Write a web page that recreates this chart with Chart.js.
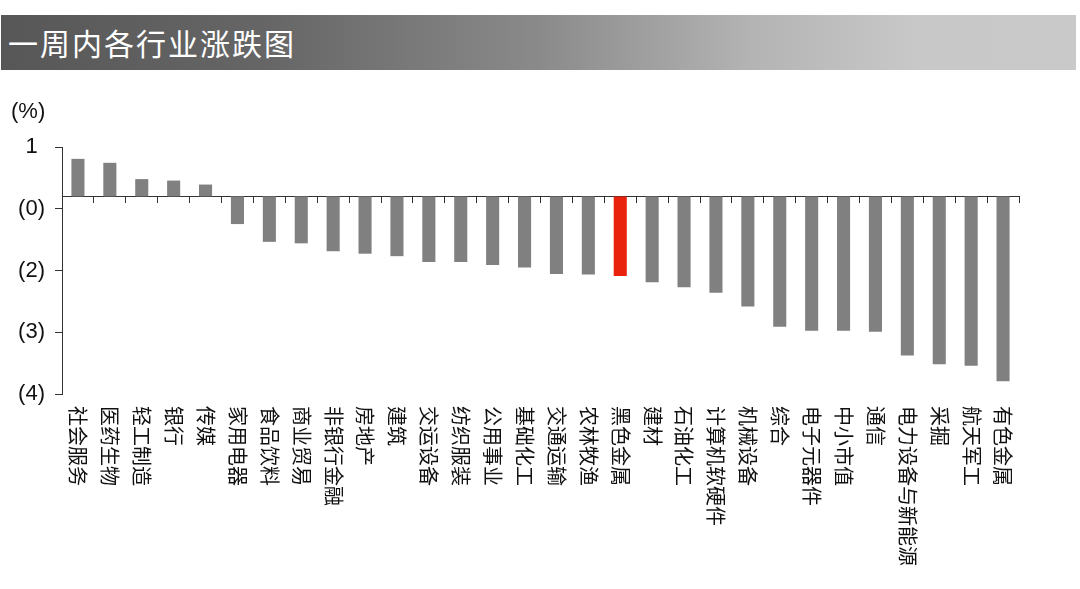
<!DOCTYPE html>
<html>
<head>
<meta charset="utf-8">
<script src="https://cdn.jsdelivr.net/npm/chart.js@4"></script>
<style>
  html, body { margin: 0; padding: 0; background: #fff; width: 1080px; height: 589px; overflow: hidden; }
  #titlebar {
    position: absolute; left: 1px; top: 15px; width: 1075px; height: 55px;
    background: linear-gradient(to right, #575757 0%, #666 25%, #8a8a8a 50%, #b4b4b4 70%, #c8c8c8 85%, #c9c9c9 100%);
    color: #fff; font-family: "Noto Sans CJK SC", sans-serif; font-size: 30px;
    line-height: 55px; padding-left: 7px; box-sizing: border-box; letter-spacing: 2px;
  }
  #unit {
    position: absolute; left: 11px; top: 98px; font-family: "Liberation Sans", Arial, sans-serif;
    font-size: 22px; color: #111;
  }
  canvas { position: absolute; left: 0; top: 0; }
</style>
</head>
<body>
<canvas id="c" width="1080" height="589"></canvas>
<div id="titlebar">一周内各行业涨跌图</div>
<div id="unit">(%)</div>
<script>
const CATEGORIES = ['社会服务','医药生物','轻工制造','银行','传媒','家用电器','食品饮料','商业贸易','非银行金融','房地产',
  '建筑','交运设备','纺织服装','公用事业','基础化工','交通运输','农林牧渔','黑色金属','建材','石油化工',
  '计算机软硬件','机械设备','综合','电子元器件','中小市值','通信','电力设备与新能源','采掘','航天军工','有色金属'];
const CHANGES = [0.76, 0.68, 0.35, 0.32, 0.24, -0.56, -0.92, -0.95, -1.11, -1.16,
  -1.21, -1.33, -1.33, -1.39, -1.44, -1.57, -1.58, -1.61, -1.74, -1.84,
  -1.95, -2.23, -2.64, -2.72, -2.72, -2.74, -3.22, -3.40, -3.43, -3.74];
const HIGHLIGHT = '黑色金属';
const Y_MIN = -4, Y_MAX = 1, Y_STEP = 1.25;

const barColors = CATEGORIES.map(c => c === HIGHLIGHT ? '#e8220c' : '#808080');

const verticalLabels = {
  id: 'verticalLabels',
  afterDraw(chart) {
    const ctx = chart.ctx;
    const xs = chart.scales.x;
    const top = chart.chartArea.bottom + 12;
    ctx.save();
    ctx.fillStyle = '#111';
    ctx.font = '20px "Noto Sans CJK SC", sans-serif';
    ctx.textAlign = 'left';
    ctx.textBaseline = 'middle';
    CATEGORIES.forEach((lab, i) => {
      const x = xs.getPixelForValue(i);
      ctx.save();
      ctx.translate(x, top);
      ctx.rotate(Math.PI / 2);
      ctx.fillText(lab, 0, 0);
      ctx.restore();
    });
    ctx.restore();
  }
};

new Chart(document.getElementById('c'), {
  type: 'bar',
  data: {
    labels: CATEGORIES,
    datasets: [{
      data: CHANGES,
      backgroundColor: barColors,
      borderWidth: 0,
      categoryPercentage: 1.0,
      barPercentage: 0.41
    }]
  },
  options: {
    responsive: false,
    animation: false,
    devicePixelRatio: 1,
    layout: { padding: { left: 0, top: 147, right: 61, bottom: 195 } },
    plugins: { legend: { display: false }, tooltip: { enabled: false }, title: { display: false } },
    scales: {
      x: {
        position: { y: 0 },
        offset: true,
        grid: { display: true, drawOnChartArea: false, drawTicks: true, tickLength: 6, color: '#333', offset: true, lineWidth: 1 },
        border: { display: true, color: '#333', width: 1 },
        ticks: { display: false },
        afterFit(s) { s.height = 0; }
      },
      y: {
        min: Y_MIN, max: Y_MAX,
        grid: { display: true, drawOnChartArea: false, drawTicks: true, tickLength: 7, color: '#333' },
        border: { display: true, color: '#333', width: 1 },
        ticks: {
          stepSize: Y_STEP,
          crossAlign: 'center',
          padding: 10,
          color: '#111',
          font: { family: '"Liberation Sans", Arial, sans-serif', size: 22 },
          callback: v => v >= 0 ? String(Math.round(v)) : '(' + Math.round(-v) + ')'
        },
        afterFit(s) { s.width = 62; }
      }
    }
  },
  plugins: [verticalLabels]
});
</script>
</body>
</html>
